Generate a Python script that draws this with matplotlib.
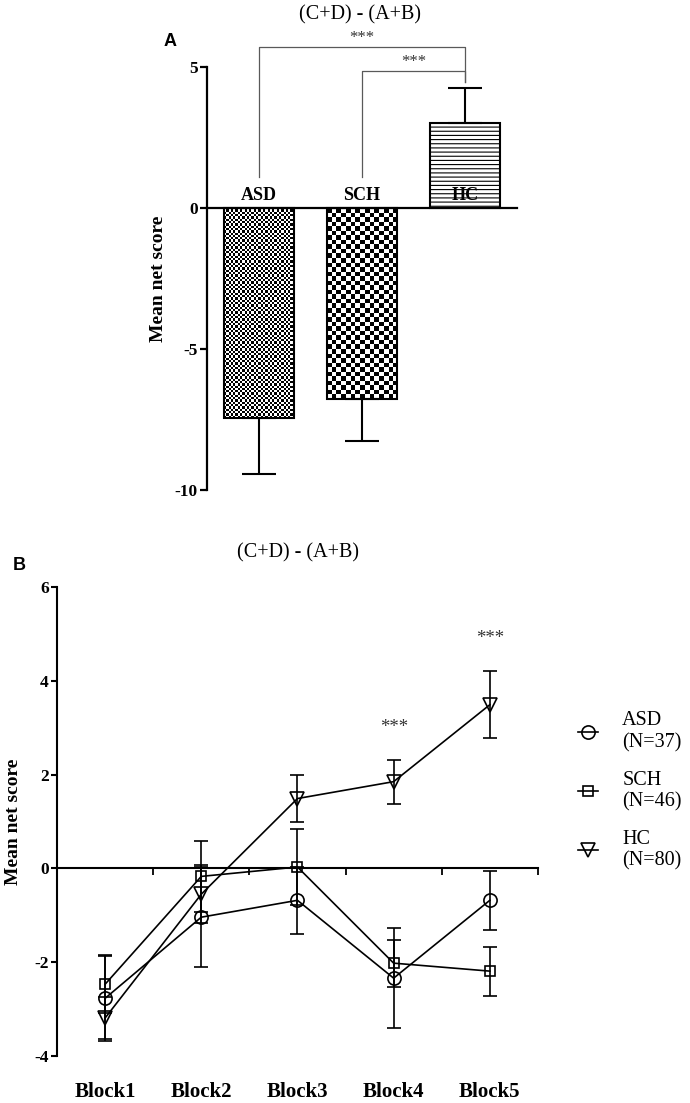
import numpy as np
import matplotlib.pyplot as plt

plt.rcParams['font.family'] = ['Liberation Serif', 'DejaVu Serif']
plt.rcParams['hatch.linewidth'] = 0.8
plt.rcParams['axes.unicode_minus'] = False

# panel A: overall net score per group
groups = ['ASD', 'SCH', 'HC']
net_means = [-7.45, -6.77, 3.0]
net_err = [2.0, 1.5, 1.25]

# panel B: net score per block
blocks = ['Block1', 'Block2', 'Block3', 'Block4', 'Block5']
asd_means = [-2.77, -1.04, -0.68, -2.34, -0.68]
asd_err = [0.9, 1.07, 0.72, 1.06, 0.63]
sch_means = [-2.47, -0.17, 0.03, -2.02, -2.19]
sch_err = [0.62, 0.75, 0.82, 0.5, 0.52]
hc_means = [-3.19, -0.55, 1.49, 1.85, 3.49]
hc_err = [0.45, 0.62, 0.5, 0.47, 0.71]
legend_labels = ['ASD\n(N=37)', 'SCH\n(N=46)', 'HC\n(N=80)']

title = '(C+D) - (A+B)'

fig = plt.figure(figsize=(6.9, 11.03), dpi=100)

# %%
# panel A - bar chart

axA = fig.add_axes([0.300, 0.5558, 0.449, 0.3835])
xa = np.arange(len(groups))
axA.set_xlim(-0.5, 2.5)
axA.set_ylim(-10, 5)

bars = axA.bar(xa, net_means, width=0.68, facecolor='none', edgecolor='black',
               linewidth=1.5, zorder=3)
bars[2].set_hatch('----')

# one sided error bars, pointing away from zero
lower = [e if m < 0 else 0 for m, e in zip(net_means, net_err)]
upper = [e if m > 0 else 0 for m, e in zip(net_means, net_err)]
axA.errorbar(xa, net_means, yerr=[lower, upper], fmt='none', ecolor='black',
             elinewidth=1.5, capsize=12.5, capthick=1.5, zorder=2)


def checker(ax, bar, cell_px):
    # checkerboard fill clipped to the bar
    bb = bar.get_window_extent()
    nx = max(1, int(round(bb.width / cell_px)))
    ny = max(1, int(round(bb.height / cell_px)))
    pattern = (np.indices((ny, nx)).sum(axis=0) % 2).astype(float)
    x0, y0 = bar.get_xy()
    w, h = bar.get_width(), bar.get_height()
    im = ax.imshow(pattern, cmap='gray', vmin=0, vmax=1, extent=(x0, x0 + w, y0 + h, y0),
                   interpolation='nearest', aspect='auto', zorder=1)
    im.set_clip_path(bar)


checker(axA, bars[0], 2.3)
checker(axA, bars[1], 4.6)
axA.set_xlim(-0.5, 2.5)
axA.set_ylim(-10, 5)

for xi, name in zip(xa, groups):
    axA.text(xi, 0.13, name, ha='center', va='bottom', fontsize=13,
             fontweight='bold', zorder=4)

# significance brackets
axA.plot([0, 0, 2, 2], [1.1, 5.7, 5.7, 4.47], color='0.35', lw=0.9, clip_on=False)
axA.plot([1, 1, 2, 2], [1.1, 4.86, 4.86, 4.47], color='0.35', lw=0.9, clip_on=False)
axA.text(1, 5.9, '***', ha='center', va='baseline', fontsize=12, color='0.2')
axA.text(1.5, 5.02, '***', ha='center', va='baseline', fontsize=12, color='0.2')

axA.spines['top'].set_visible(False)
axA.spines['right'].set_visible(False)
axA.spines['bottom'].set_position(('data', 0))
axA.spines['left'].set_linewidth(1.6)
axA.spines['bottom'].set_linewidth(1.6)
axA.set_xticks([])
axA.set_yticks([-10, -5, 0, 5])
axA.tick_params(axis='y', length=5, width=1.6, pad=1.5, labelsize=12.5)
for lab in axA.get_yticklabels():
    lab.set_fontweight('bold')
axA.set_ylabel('Mean net score', fontsize=14, fontweight='bold')
axA.yaxis.set_label_coords(-0.13, 0.5)

fig.text(360 / 690, 1 - 15 / 1103, title, ha='center', va='center', fontsize=14.5)
fig.text(170 / 690, 1 - 42 / 1103, 'A', ha='center', va='center', fontsize=13,
         fontweight='bold', family='Liberation Sans')

# %%
# panel B - line chart per block

axB = fig.add_axes([0.0826, 0.0426, 0.697, 0.4252])
xb = np.arange(1, len(blocks) + 1)
axB.set_xlim(0.5, len(blocks) + 0.5)
axB.set_ylim(-4, 6)

series = [(asd_means, asd_err, 'o', 9.5),
          (sch_means, sch_err, 's', 7.5),
          (hc_means, hc_err, 'v', 9.5)]
handles = []
for (means, err, mk, ms), lab in zip(series, legend_labels):
    axB.errorbar(xb, means, yerr=err, fmt='none', ecolor='black', elinewidth=1.2,
                 capsize=4.7, capthick=1.2, zorder=2)
    ln, = axB.plot(xb, means, color='black', lw=1.2, marker=mk, ms=ms,
                   mfc='none', mec='black', mew=1.2, label=lab, zorder=3)
    handles.append(ln)

axB.text(4, 2.9, '***', ha='center', va='baseline', fontsize=13.5, color='0.2')
axB.text(5, 4.8, '***', ha='center', va='baseline', fontsize=13.5, color='0.2')

axB.spines['top'].set_visible(False)
axB.spines['right'].set_visible(False)
axB.spines['bottom'].set_position(('data', 0))
axB.spines['left'].set_linewidth(1.5)
axB.spines['bottom'].set_linewidth(1.5)
axB.set_xticks(np.arange(1.5, len(blocks) + 1, 1))
axB.set_xticklabels([])
axB.tick_params(axis='x', direction='out', length=5, width=1.3)
axB.set_yticks([-4, -2, 0, 2, 4, 6])
axB.tick_params(axis='y', length=4, width=1.5, pad=2, labelsize=12.5)
for lab in axB.get_yticklabels():
    lab.set_fontweight('bold')

for xi, name in zip(xb, blocks):
    axB.text(xi, -0.087, name, transform=axB.get_xaxis_transform(), ha='center',
             va='baseline', fontsize=15, fontweight='bold')

axB.set_ylabel('Mean net score', fontsize=14, fontweight='bold')
axB.yaxis.set_label_coords(-0.073, 0.5)

axB.legend(handles=handles, loc='upper left', bbox_to_anchor=(1.083, 0.735),
           frameon=False, fontsize=14.5, handlelength=1.0, handletextpad=1.2,
           labelspacing=0.9, borderpad=0, borderaxespad=0)

fig.text(298 / 690, 1 - 553 / 1103, title, ha='center', va='center', fontsize=14.5)
fig.text(19 / 690, 1 - 566 / 1103, 'B', ha='center', va='center', fontsize=13,
         fontweight='bold', family='Liberation Sans')

fig.savefig('out.png', dpi=100)
